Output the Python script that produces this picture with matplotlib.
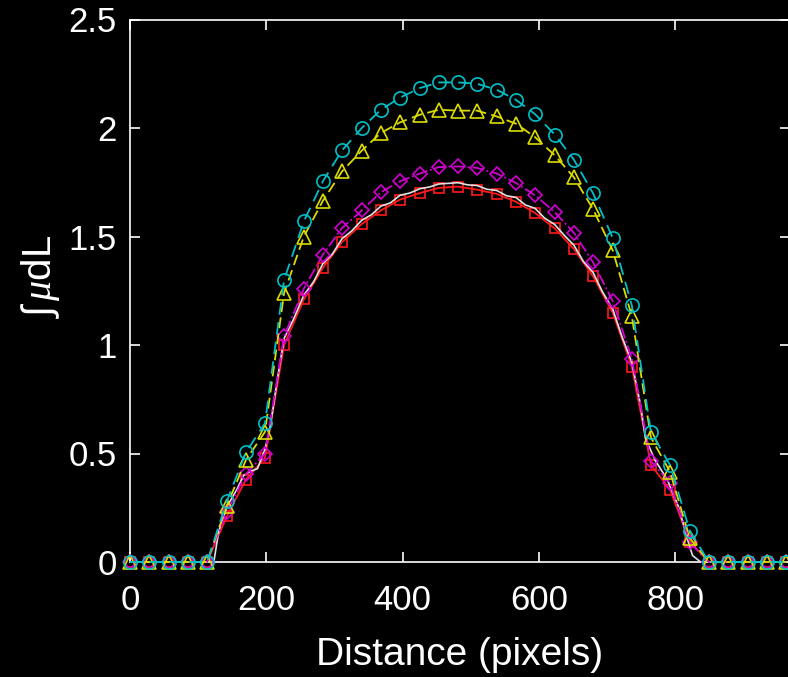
import matplotlib.pyplot as plt

plt.rcParams['font.family'] = ['Liberation Sans', 'DejaVu Sans']
plt.rcParams['mathtext.fontset'] = 'custom'
plt.rcParams['mathtext.it'] = 'Liberation Serif:italic'
plt.rcParams['mathtext.rm'] = 'Liberation Sans'

# marker positions (pixels along the profile)
x = [0, 28, 57, 85, 113, 142, 170, 198, 226, 255, 283, 311, 340, 368, 396, 425,
     453, 481, 509, 538, 566, 594, 623, 651, 679, 708, 736, 764, 792, 821, 849,
     877, 906, 934, 962]

zeros = [0, 0, 0, 0, 0]
cyan = zeros + [0.28, 0.505, 0.64, 1.30, 1.57, 1.755, 1.897, 2.0, 2.084, 2.14,
                2.184, 2.21, 2.21, 2.204, 2.176, 2.13, 2.064, 1.97, 1.854, 1.70,
                1.494, 1.183, 0.60, 0.447, 0.144] + zeros
yellow = zeros + [0.26, 0.47, 0.60, 1.24, 1.50, 1.665, 1.80, 1.896, 1.977, 2.026,
                  2.061, 2.084, 2.08, 2.08, 2.053, 2.02, 1.958, 1.874, 1.773, 1.627,
                  1.436, 1.133, 0.574, 0.416, 0.11] + zeros
magenta = zeros + [0.23, 0.405, 0.50, 1.04, 1.26, 1.417, 1.54, 1.62, 1.704, 1.754,
                   1.79, 1.82, 1.823, 1.816, 1.79, 1.747, 1.69, 1.612, 1.517, 1.382,
                   1.202, 0.937, 0.466, 0.364, 0.09] + zeros
red = zeros + [0.21, 0.38, 0.48, 1.00, 1.21, 1.356, 1.474, 1.558, 1.62, 1.67,
               1.70, 1.724, 1.73, 1.716, 1.696, 1.66, 1.609, 1.537, 1.443, 1.317,
               1.149, 0.90, 0.447, 0.333, 0.094] + zeros

# reference profile (thin white line)
wx = [0, 40, 80, 120, 123, 130, 143, 156, 167, 178, 187, 198, 206, 216, 226, 240,
      255, 269, 283, 297, 311, 325, 340, 354, 368, 382, 396, 410, 425, 439, 453,
      467, 481, 495, 509, 523, 538, 552, 566, 580, 594, 608, 623, 637, 651, 665,
      679, 693, 708, 722, 736, 749, 756, 770, 788, 805, 819, 825, 837, 880, 920, 970]
wy = [0, 0, 0, 0, 0.0, 0.14, 0.26, 0.33, 0.40, 0.42, 0.43, 0.52, 0.63, 0.84, 1.03,
      1.12, 1.23, 1.29, 1.375, 1.42, 1.49, 1.525, 1.575, 1.60, 1.64, 1.655, 1.69,
      1.70, 1.72, 1.728, 1.742, 1.745, 1.748, 1.738, 1.735, 1.718, 1.712, 1.688,
      1.68, 1.645, 1.63, 1.585, 1.555, 1.505, 1.46, 1.385, 1.335, 1.245, 1.165,
      1.035, 0.92, 0.72, 0.57, 0.47, 0.38, 0.25, 0.09, 0.03, 0, 0, 0, 0]

fig = plt.figure(figsize=(7.88, 6.77), dpi=100, facecolor='black')
ax = fig.add_axes([130 / 788, 115 / 677, 660 / 788, 542.5 / 677])
ax.set_facecolor('black')

ax.plot(x, red, '-', color='#ff1a1a', lw=1.3, marker='s', ms=7, mfc='none',
        mew=1.2, clip_on=False, zorder=3)
ax.plot(wx, wy, '-', color='#e0e0e0', lw=1.2, clip_on=False, zorder=4)
ax.plot(x, magenta, '-.', color='#d200d2', lw=1.3, marker='D', ms=7.5, mfc='none',
        mew=1.2, clip_on=False, zorder=5)
ax.plot(x, yellow, '--', color='#dcdc00', lw=1.3, marker='^', ms=9.5, mfc='none',
        mew=1.2, clip_on=False, zorder=6, dashes=(6, 3))
ax.plot(x, cyan, '--', color='#00c0c8', lw=1.3, marker='o', ms=9.5, mfc='none',
        mew=1.2, clip_on=False, zorder=7, dashes=(7, 4))

ax.set_xlim(0, 968)
ax.set_ylim(0, 2.5)
ax.set_xticks([0, 200, 400, 600, 800])
ax.set_yticks([0, 0.5, 1, 1.5, 2, 2.5])
ax.set_yticklabels(['0', '0.5', '1', '1.5', '2', '2.5'])

for s in ax.spines.values():
    s.set_color('white')
    s.set_linewidth(1.2)
ax.tick_params(direction='in', colors='white', labelsize=25, length=7, width=1.2,
               top=True, right=True)
ax.tick_params(axis='x', pad=16)
ax.tick_params(axis='y', pad=9.5)

ax.set_xlabel('Distance (pixels)', color='white', fontsize=28, labelpad=14)
ax.set_ylabel(r'$\int\,\mu$dL', color='white', fontsize=29)
ax.yaxis.set_label_coords(-0.103, 0.526)

fig.savefig('out.png', dpi=100, facecolor='black')
